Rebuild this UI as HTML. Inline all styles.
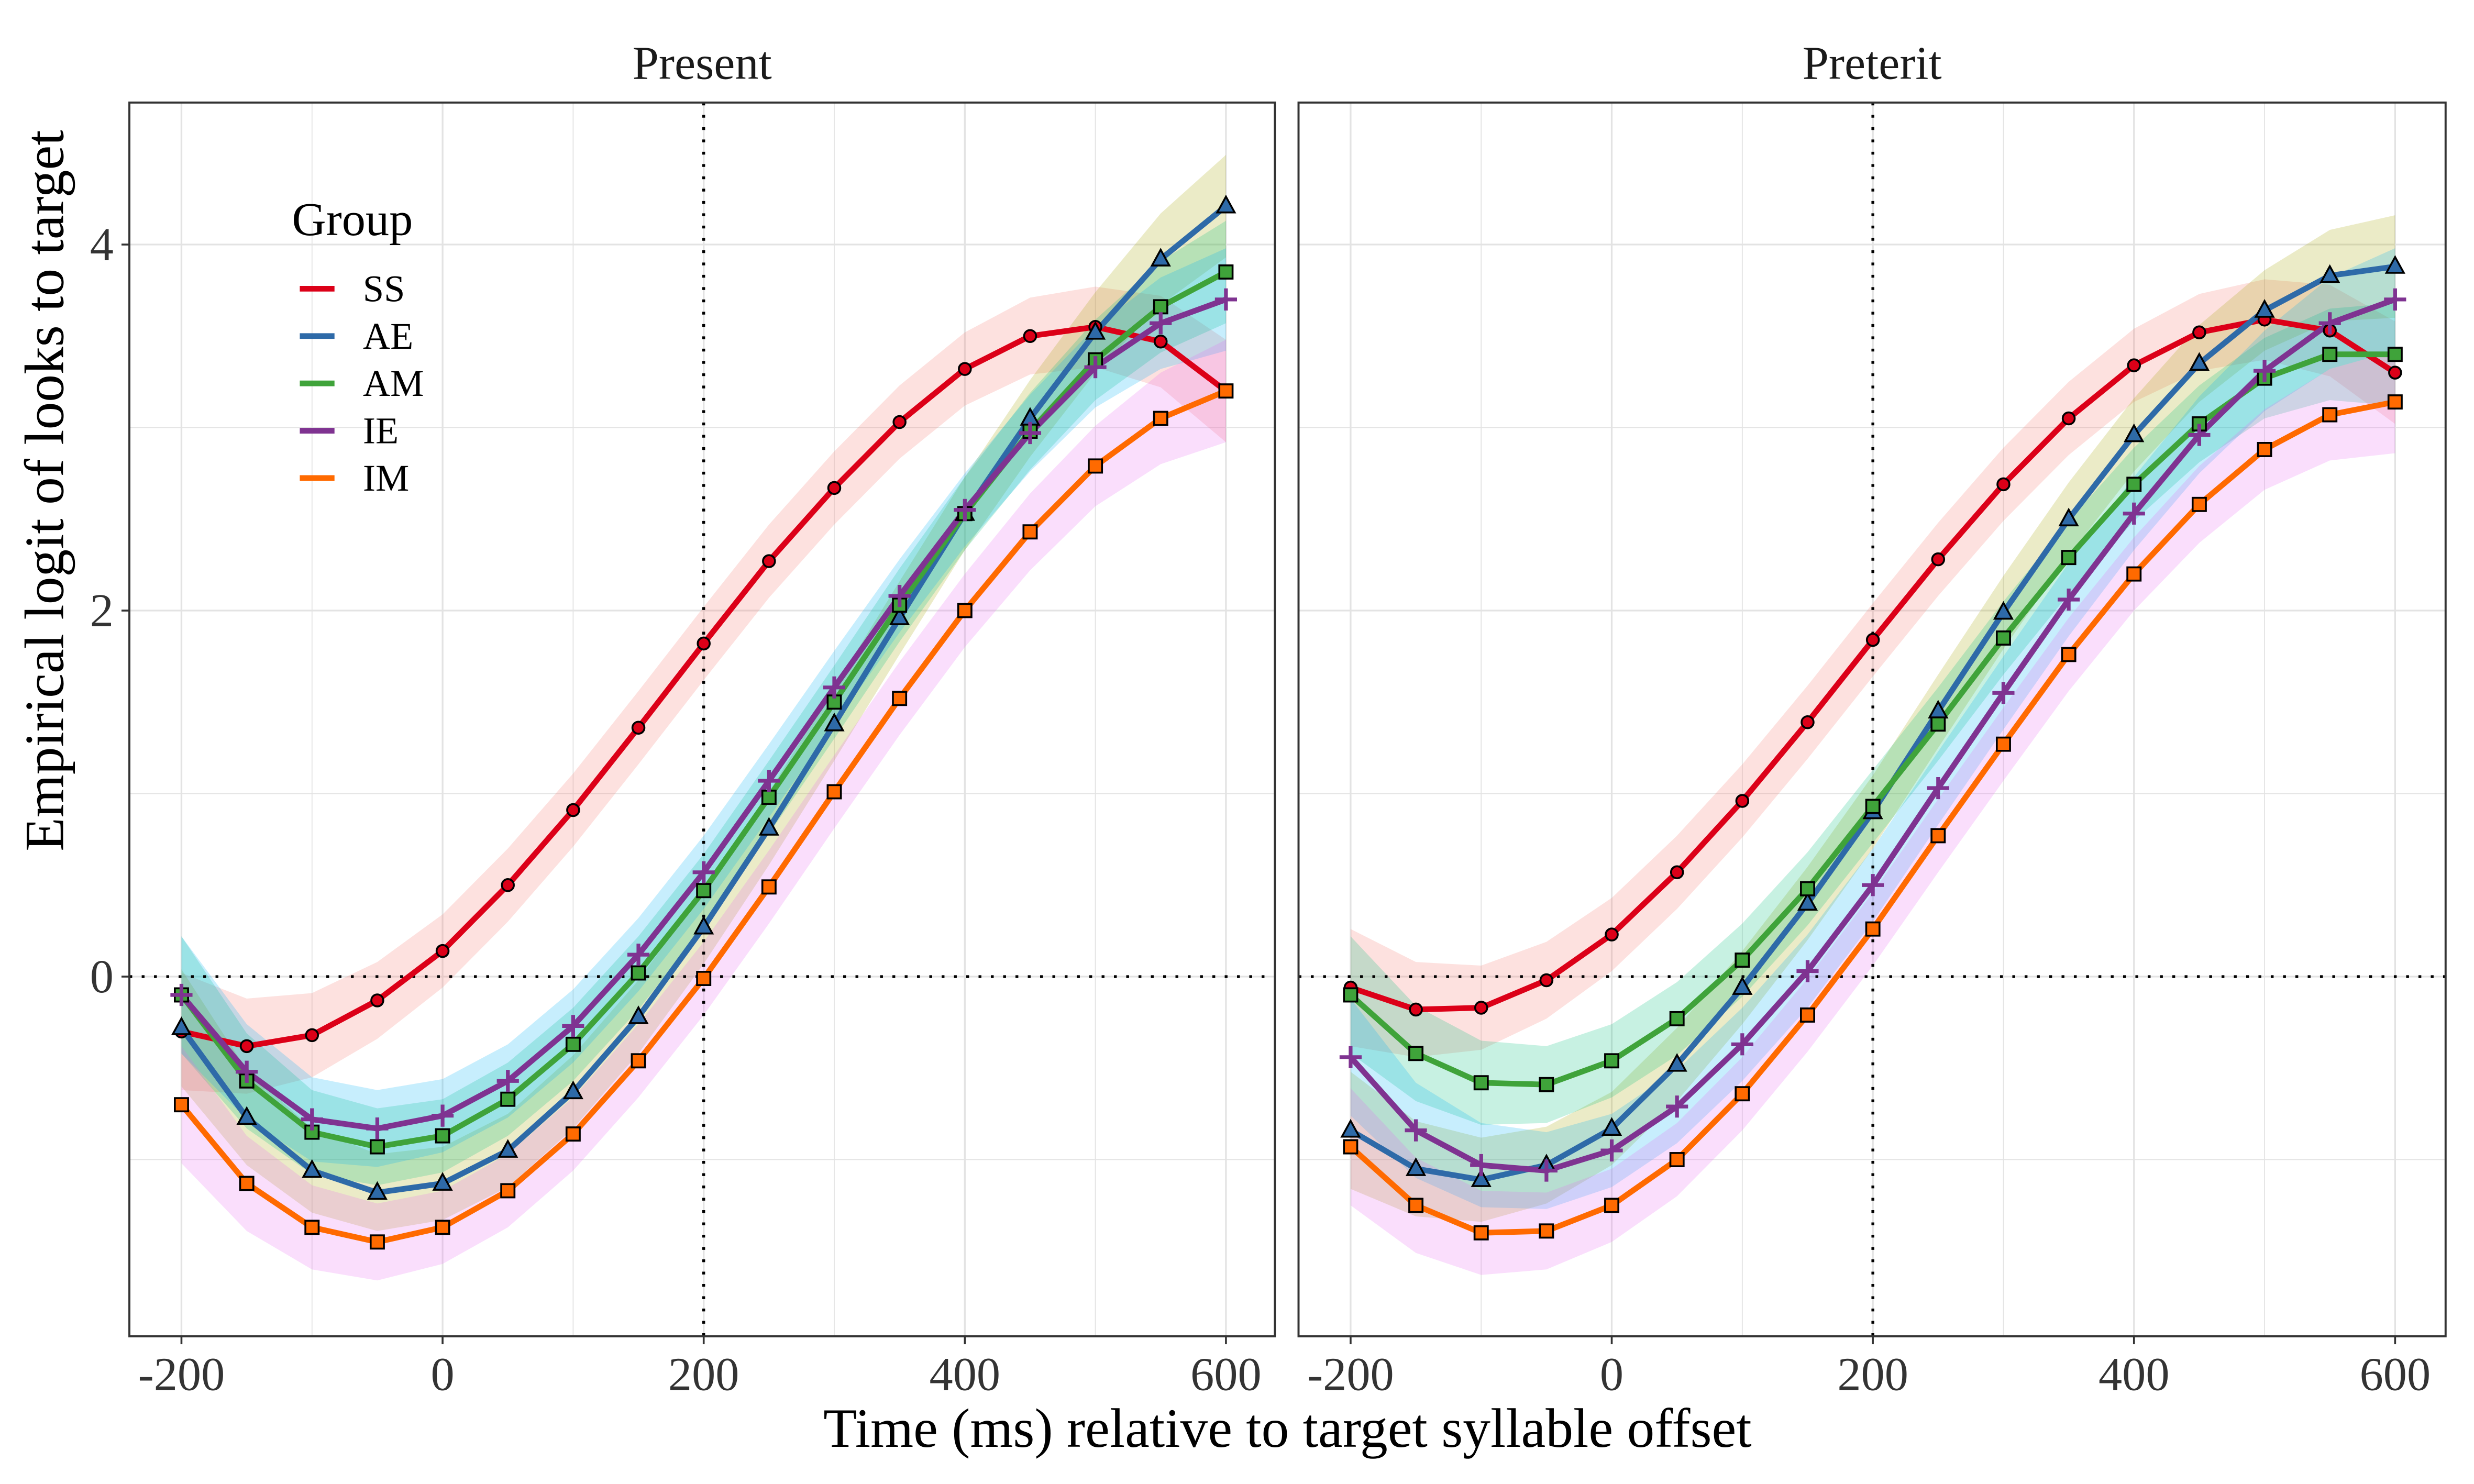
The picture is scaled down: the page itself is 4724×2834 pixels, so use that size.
<!DOCTYPE html>
<html><head><meta charset="utf-8"><style>
html,body{margin:0;padding:0;background:#fff}
svg{display:block}
text{font-family:"Liberation Serif",serif}
</style></head><body>
<svg id="chart" width="4724" height="2834" viewBox="0 0 1568 940.6" preserveAspectRatio="none" xmlns="http://www.w3.org/2000/svg">
<g id="root"></g>
</svg>
<script>
const times=[-200,-150,-100,-50,0,50,100,150,200,250,300,350,400,450,500,550,600];
const groups=["SS","AE","AM","IE","IM"];
const xTicks=[-200,0,200,400,600];
const yTicks=[0,2,4];
const panels=["Present","Preterit"];
const presentSS=[-0.30,-0.38,-0.32,-0.13,0.14,0.50,0.91,1.36,1.82,2.27,2.67,3.03,3.32,3.50,3.55,3.47,3.20];
const presentAE=[-0.28,-0.77,-1.06,-1.18,-1.13,-0.95,-0.63,-0.22,0.27,0.81,1.38,1.96,2.53,3.05,3.52,3.92,4.21];
const presentAM=[-0.10,-0.57,-0.85,-0.93,-0.87,-0.67,-0.37,0.02,0.47,0.98,1.50,2.03,2.53,2.98,3.37,3.66,3.85];
const presentIE=[-0.10,-0.52,-0.78,-0.83,-0.76,-0.57,-0.27,0.12,0.57,1.07,1.58,2.08,2.55,2.97,3.33,3.57,3.70];
const presentIM=[-0.70,-1.13,-1.37,-1.45,-1.37,-1.17,-0.86,-0.46,-0.01,0.49,1.01,1.52,2.00,2.43,2.79,3.05,3.20];
const preteritSS=[-0.06,-0.18,-0.17,-0.02,0.23,0.57,0.96,1.39,1.84,2.28,2.69,3.05,3.34,3.52,3.59,3.53,3.30];
const preteritAE=[-0.84,-1.05,-1.11,-1.03,-0.83,-0.48,-0.06,0.40,0.90,1.45,1.99,2.50,2.96,3.35,3.64,3.83,3.88];
const preteritAM=[-0.10,-0.42,-0.58,-0.59,-0.46,-0.23,0.09,0.48,0.93,1.38,1.85,2.29,2.69,3.02,3.27,3.40,3.40];
const preteritIE=[-0.44,-0.84,-1.03,-1.06,-0.95,-0.71,-0.37,0.03,0.50,1.03,1.55,2.06,2.53,2.96,3.31,3.57,3.70];
const preteritIM=[-0.93,-1.25,-1.40,-1.39,-1.25,-1.00,-0.64,-0.21,0.26,0.77,1.27,1.76,2.20,2.58,2.88,3.07,3.14];
const ciHalf=[0.32,0.26,0.23,0.21,0.2,0.2,0.2,0.2,0.2,0.2,0.2,0.2,0.2,0.21,0.22,0.25,0.28];

const lineCol={SS:"#dc0018",AE:"#2e6aa8",AM:"#3fa33a",IE:"#7f3391",IM:"#ff6a00"};
const ribCol={SS:"#F8766D",AE:"#A3A500",AM:"#00BF7D",IE:"#00B0F6",IM:"#E76BF3"};
const data={Present:{SS:presentSS,AE:presentAE,AM:presentAM,IE:presentIE,IM:presentIM},
            Preterit:{SS:preteritSS,AE:preteritAE,AM:preteritAM,IE:preteritIE,IM:preteritIM}};
const NS="http://www.w3.org/2000/svg";
const root=document.getElementById('root');
function el(tag,attrs,parent){const e=document.createElementNS(NS,tag);for(const k in attrs)e.setAttribute(k,attrs[k]);(parent||root).appendChild(e);return e;}
const panelBox=[{l:82,r:808},{l:823,r:1550}];
const topY=65,botY=847;
function yS(v){return 619-v*116;}
panels.forEach((pn,pi)=>{
  const pb=panelBox[pi];
  const x0=pb.l+33;
  const xS=t=>x0+(t+200)*0.8275;
  const g=el('g',{});
  
  
  for(let v=-1;v<=4;v+=1){
    const y=yS(v); if(y<topY||y>botY) continue;
    const major=(v%2===0);
    const ln=el('line',{x1:pb.l,x2:pb.r,y1:y,y2:y,stroke:"#e3e3e3","stroke-width":major?1.1:0.6},g);
    
    
  }
  for(let t=-200;t<=600;t+=100){
    const major=(t%200===0);
    const ln=el('line',{x1:xS(t),x2:xS(t),y1:topY,y2:botY,stroke:"#e3e3e3","stroke-width":major?1.1:0.6},g);
    
    
  }
  groups.forEach(gr=>{
    const vals=data[pn][gr];
    let d="";
    times.forEach((t,i)=>{d+=(i?"L":"M")+xS(t)+","+yS(vals[i]+ciHalf[i]);});
    for(let i=times.length-1;i>=0;i--) d+="L"+xS(times[i])+","+yS(vals[i]-ciHalf[i]);
    const r=el('path',{d:d+"Z",fill:ribCol[gr],"fill-opacity":0.22,stroke:"none"},g);
    
    
  });
  const h=el('line',{x1:pb.l,x2:pb.r,y1:yS(0),y2:yS(0),stroke:"#000","stroke-width":1.8,"stroke-dasharray":"1.8,6"},g);
  
  
  const v=el('line',{x1:xS(200),x2:xS(200),y1:topY,y2:botY,stroke:"#000","stroke-width":1.8,"stroke-dasharray":"1.8,6"},g);
  
  
  groups.forEach(gr=>{
    const vals=data[pn][gr];
    const pts=times.map((t,i)=>xS(t)+","+yS(vals[i])).join(" ");
    const pl=el('polyline',{points:pts,fill:"none",stroke:lineCol[gr],"stroke-width":3.6,"stroke-linejoin":"round"},g);
    
    
  });
  groups.forEach(gr=>{
    const vals=data[pn][gr];
    times.forEach((t,i)=>{
      const x=xS(t),y=yS(vals[i]);let m;
      if(gr==="SS") m=el('circle',{cx:x,cy:y,r:3.8,fill:lineCol[gr],stroke:"#000","stroke-width":1.2},g);
      else if(gr==="AE") m=el('path',{d:`M${x},${y-6}L${x+5.5},${y+4}L${x-5.5},${y+4}Z`,fill:lineCol[gr],stroke:"#000","stroke-width":1.2},g);
      else if(gr==="AM"||gr==="IM") m=el('rect',{x:x-4.2,y:y-4.2,width:8.4,height:8.4,fill:lineCol[gr],stroke:"#000","stroke-width":1.2},g);
      else { m=el('path',{d:`M${x-7},${y}H${x+7}M${x},${y-7}V${y+7}`,stroke:lineCol[gr],"stroke-width":2.4},g); }
      
      
    });
  });
  const b=el('rect',{x:pb.l,y:topY,width:pb.r-pb.l,height:botY-topY,fill:"none",stroke:"#333","stroke-width":1.3},g);
  
  
  const st=el('text',{x:(pb.l+pb.r)/2,y:50,"text-anchor":"middle","font-size":30,fill:"#1a1a1a"},g);
  st.textContent=pn;
  
  
  xTicks.forEach(t=>{
    const tk=el('line',{x1:xS(t),x2:xS(t),y1:botY,y2:botY+5,stroke:"#333","stroke-width":1.2},g);
    
    
    const lb=el('text',{x:xS(t),y:botY+34,"text-anchor":"middle","font-size":30,fill:"#333"},g);
    lb.textContent=t;
    
    
  });
  if(pi===0){
    yTicks.forEach(t=>{
      const tk=el('line',{x1:pb.l-5,x2:pb.l,y1:yS(t),y2:yS(t),stroke:"#333","stroke-width":1.2},g);
      
      
      const lb=el('text',{x:pb.l-10,y:yS(t)+10,"text-anchor":"end","font-size":30,fill:"#333"},g);
      lb.textContent=t;
      
      
    });
  }
});
const xt=el('text',{x:816,y:917,"text-anchor":"middle","font-size":35,fill:"#000"});
xt.textContent="Time (ms) relative to target syllable offset";


const yt=el('text',{x:0,y:0,"text-anchor":"middle","font-size":35,fill:"#000",transform:"translate(40,311) rotate(-90)"});
yt.textContent="Empirical logit of looks to target";


const lg=el('g',{});


const ltl=el('text',{x:185,y:149,"font-size":30,fill:"#000"},lg);
ltl.textContent="Group";


groups.forEach((gr,i)=>{
  const y=183+i*30;
  const ln=el('line',{x1:190,x2:212,y1:y,y2:y,stroke:lineCol[gr],"stroke-width":3.6},lg);
  
  
  const tx=el('text',{x:230,y:y+8,"font-size":24,fill:"#000"},lg);
  tx.textContent=gr;
  
  
});
</script>
</body></html>
